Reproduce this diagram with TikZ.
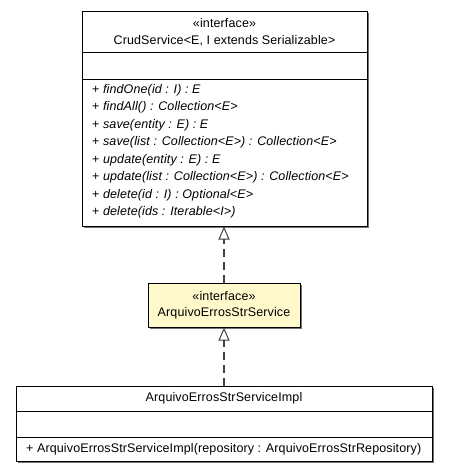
\documentclass[tikz,border=0pt]{standalone}
\usepackage{fontspec}
\setmainfont{Liberation Sans}[LetterSpace=1]
\usetikzlibrary{arrows.meta,shadows}
\definecolor{ifacefill}{RGB}{255,249,204}
\definecolor{edgegray}{RGB}{64,64,64}
\tikzset{
  classbox/.style={draw=black, line width=1pt, inner sep=0pt,
    drop shadow={shadow xshift=1.5pt, shadow yshift=-1.5pt, fill=black!55, opacity=1}},
  umltext/.style={font=\fontsize{12.5}{14}\selectfont, inner sep=0pt},
  realize/.style={draw=edgegray, line width=1.3pt, dash pattern=on 8pt off 5pt,
    -{Triangle[open, length=13pt, width=11pt, fill=white, line width=1pt]}}
}
\begin{document}
\begin{tikzpicture}[x=1pt,y=-1pt]
        \useasboundingbox (0,0) rectangle (448,472);
        %box drawing
        \node[classbox, fill=white, minimum width=285pt, minimum height=215pt] (crud) at (224.5,118.5) {};
        \node[classbox, fill=ifacefill, minimum width=152pt, minimum height=44pt] (iface) at (224,305) {};
        \node[classbox, fill=white, minimum width=416pt, minimum height=75pt] (impl) at (224,423.5) {};

        % compartments
        \draw[line width=1pt] (crud.west |- 0,52) -- (crud.east |- 0,52);
        \draw[line width=1pt] (crud.west |- 0,79) -- (crud.east |- 0,79);
        \draw[line width=1pt] (impl.west |- 0,411) -- (impl.east |- 0,411);
        \draw[line width=1pt] (impl.west |- 0,437) -- (impl.east |- 0,437);

        % realizations
        \draw[realize] (iface.north) -- (iface.north |- crud.south);
        \draw[realize] (impl.north) -- (impl.north |- iface.south);

        % names
        \node[umltext] (crudstereo) at (224.5,23) {«interface»};
        \node[umltext] (crudname) at (224.5,41) {CrudService<E, I extends Serializable>};
        \node[umltext] (ifacestereo) at (224,296) {«interface»};
        \node[umltext] (ifacename) at (224,313) {ArquivoErrosStrService};
        \node[umltext] (implname) at (224,398) {ArquivoErrosStrServiceImpl};

        % operations
        \node[umltext, anchor=west] (opa) at (92,90) {+ \textit{findOne(id : I) : E}};
        \node[umltext, anchor=west] (opb) at (92,107.5) {+ \textit{findAll() : Collection<E>}};
        \node[umltext, anchor=west] (opc) at (92,125) {+ \textit{save(entity : E) : E}};
        \node[umltext, anchor=west] (opd) at (92,142.5) {+ \textit{save(list : Collection<E>) : Collection<E>}};
        \node[umltext, anchor=west] (ope) at (92,160) {+ \textit{update(entity : E) : E}};
        \node[umltext, anchor=west] (opf) at (92,177.5) {+ \textit{update(list : Collection<E>) : Collection<E>}};
        \node[umltext, anchor=west] (opg) at (92,195) {+ \textit{delete(id : I) : Optional<E>}};
        \node[umltext, anchor=west] (oph) at (92,212.5) {+ \textit{delete(ids : Iterable<I>)}};

        \node[umltext, anchor=west] (implop) at (26,449) {+ ArquivoErrosStrServiceImpl(repository : ArquivoErrosStrRepository)};
\end{tikzpicture}
\end{document}
